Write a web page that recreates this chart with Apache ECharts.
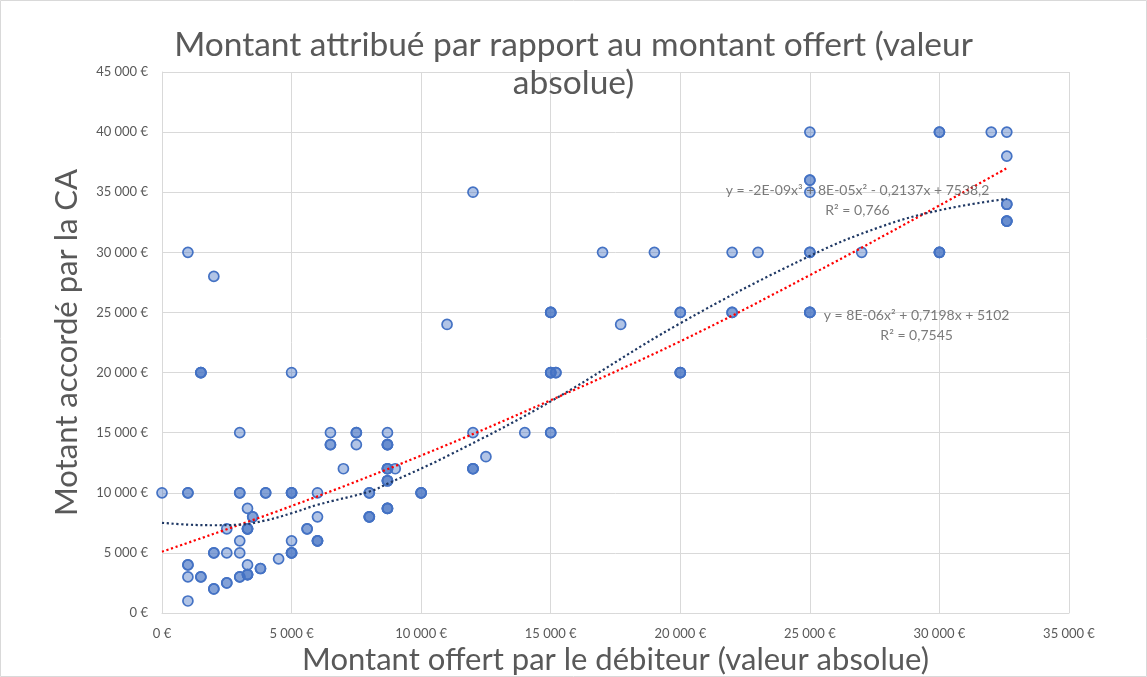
<!DOCTYPE html>
<html><head><meta charset="utf-8">
<script src="https://cdn.jsdelivr.net/npm/echarts@6/dist/echarts.min.js"></script>
<style>html,body{margin:0;padding:0;background:#fff}#c{width:1147px;height:677px}</style>
</head><body><div id="c"></div>
<script>
// Montant offert par le débiteur (x) — duplicates reproduce overlapping markers
const offered = [
  0, 1000, 1000,1000, 1000,1000, 1000, 1000,
  1500,1500,1500, 1500,1500, 2000, 2000,2000, 2000,2000,
  2500, 2500, 2500,2500, 3000, 3000,3000, 3000, 3000, 3000,3000,
  3300, 3500,3500, 3300,3300,3300, 3300, 3300,3300,3300, 3800,3800, 4000,4000, 4500,
  5000, 5000,5000,5000, 5000, 5000,5000,5000, 5600,5600, 6000, 6000, 6000,6000,6000,
  6500, 6500,6500, 7000, 7500,7500, 7500, 8000,8000, 8000,8000,8000,
  8700, 8700,8700,8700, 8700,8700,8700, 8700,8700,8700, 8700,8700,8700, 9000, 10000,10000,10000,
  11000, 12000, 12000, 12000,12000,12000, 12500, 14000, 15000,15000,15000, 15000,15000,15000, 15200,15200, 15000,15000,
  17000, 17700, 19000, 20000,20000, 20000,20000,20000, 22000, 22000,22000, 23000,
  25000, 25000,25000, 25000, 25000,25000, 25000,25000,25000, 27000, 30000,30000, 30000,30000,30000,
  32000, 32600, 32600, 32600,32600, 32600,32600,32600
];
// Montant accordé par la CA (y)
const granted = [
  10000, 30000, 10000,10000, 4000,4000, 3000, 1000,
  20000,20000,20000, 3000,3000, 28000, 5000,5000, 2000,2000,
  7000, 5000, 2500,2500, 15000, 10000,10000, 6000, 5000, 3000,3000,
  8700, 8000,8000, 7000,7000,7000, 4000, 3200,3200,3200, 3700,3700, 10000,10000, 4500,
  20000, 10000,10000,10000, 6000, 5000,5000,5000, 7000,7000, 10000, 8000, 6000,6000,6000,
  15000, 14000,14000, 12000, 15000,15000, 14000, 10000,10000, 8000,8000,8000,
  15000, 14000,14000,14000, 12000,12000,12000, 11000,11000,11000, 8700,8700,8700, 12000, 10000,10000,10000,
  24000, 35000, 15000, 12000,12000,12000, 13000, 15000, 25000,25000,25000, 20000,20000,20000, 20000,20000, 15000,15000,
  30000, 24000, 30000, 25000,25000, 20000,20000,20000, 30000, 25000,25000, 30000,
  40000, 36000,36000, 35000, 30000,30000, 25000,25000,25000, 30000, 40000,40000, 30000,30000,30000,
  40000, 40000, 38000, 34000,34000, 32600,32600,32600
];
// Trendlines
const cubicTrendX = [0, 1000, 2000, 3000, 4000, 5000, 6000, 8000, 8700, 11100, 15000, 20000, 25000, 27700, 30000, 32600];
const cubicTrendY = [7500, 7350, 7300, 7350, 7700, 8300, 9000, 10100, 10750, 13150, 17600, 24100, 29700, 32100, 33500, 34450];
const quadTrendX = [0, 5000, 10000, 15000, 20000, 25000, 30000, 32600];
const quadTrendY = [5100, 8900, 13100, 17700, 22600, 28100, 33900, 37000];
const cubicLabel = ['y = -2E-09x³ + 8E-05x² - 0,2137x + 7538,2', 'R² = 0,766'];
const quadLabel = ['y = 8E-06x² + 0,7198x + 5102', 'R² = 0,7545'];
const cubicLabelAt = [26840, 34280];
const quadLabelAt = [29120, 23880];
const xTicks = {min: 0, max: 35000, interval: 5000};
const yTicks = {min: 0, max: 45000, interval: 5000};

const fmt = v => (v === 0 ? '0' : String(v).replace(/\B(?=(\d{3})+(?!\d))/g, '\u202f')) + ' €';
const pts = offered.map((x, i) => [x, granted[i]]);
const grey = '#595959';
const chart = echarts.init(document.getElementById('c'));
chart.setOption({
  animation: false,
  backgroundColor: '#fff',
  textStyle: {fontFamily: 'Lato, "Liberation Sans", sans-serif'},
  title: {
    text: 'Montant attribué par rapport au montant offert (valeur\nabsolue)',
    left: 'center', top: 21,
    textStyle: {fontFamily: 'Lato, sans-serif', fontSize: 33.5, fontWeight: 'normal', color: grey, lineHeight: 38}
  },
  graphic: [{type: 'rect', shape: {x: 0.5, y: 0.5, width: 1146, height: 676},
    style: {fill: 'none', stroke: '#d9d9d9', lineWidth: 1}, silent: true}],
  grid: {left: 162, right: 78, top: 72, bottom: 64, outerBoundsMode: 'none', containLabel: false},
  xAxis: {
    type: 'value', min: xTicks.min, max: xTicks.max, interval: xTicks.interval,
    name: 'Montant offert par le débiteur (valeur absolue)', nameLocation: 'middle', nameGap: 28,
    nameTextStyle: {fontSize: 31, color: grey, fontFamily: 'Lato, sans-serif'},
    axisLine: {show: true, lineStyle: {color: '#d9d9d9', width: 1}},
    axisTick: {show: false},
    axisLabel: {formatter: fmt, color: grey, fontSize: 13, margin: 14},
    splitLine: {show: true, lineStyle: {color: '#d9d9d9', width: 1}}
  },
  yAxis: {
    type: 'value', min: yTicks.min, max: yTicks.max, interval: yTicks.interval,
    name: 'Motant accordé par la CA', nameLocation: 'middle', nameGap: 80,
    nameTextStyle: {fontSize: 31, color: grey, fontFamily: 'Lato, sans-serif'},
    axisLine: {show: true, lineStyle: {color: '#d9d9d9', width: 1}},
    axisTick: {show: false},
    axisLabel: {formatter: fmt, color: grey, fontSize: 13, margin: 14},
    splitLine: {show: true, lineStyle: {color: '#d9d9d9', width: 1}}
  },
  series: [
    {type: 'scatter', data: pts, symbol: 'circle', symbolSize: 10, z: 2,
      itemStyle: {color: 'rgba(68,114,196,0.42)', borderColor: '#4472c4', borderWidth: 1.7, opacity: 1}},
    {type: 'line', data: quadTrendX.map((x, i) => [x, quadTrendY[i]]), smooth: 0.4, showSymbol: false, z: 3,
      lineStyle: {color: '#ff0000', width: 2.2, type: [2.2, 2.6]}},
    {type: 'line', data: cubicTrendX.map((x, i) => [x, cubicTrendY[i]]), smooth: 0.4, showSymbol: false, z: 3,
      lineStyle: {color: '#1f3864', width: 2.2, type: [2.2, 2.6]}},
    {type: 'scatter', silent: true, symbolSize: 0, z: 4,
      data: [{value: cubicLabelAt, label: {formatter: cubicLabel.join('\n')}},
             {value: quadLabelAt, label: {formatter: quadLabel.join('\n')}}],
      label: {show: true, position: 'inside', align: 'center', verticalAlign: 'middle',
        color: grey, fontSize: 14, lineHeight: 20, fontFamily: 'Lato, sans-serif'}}
  ]
});
</script></body></html>
